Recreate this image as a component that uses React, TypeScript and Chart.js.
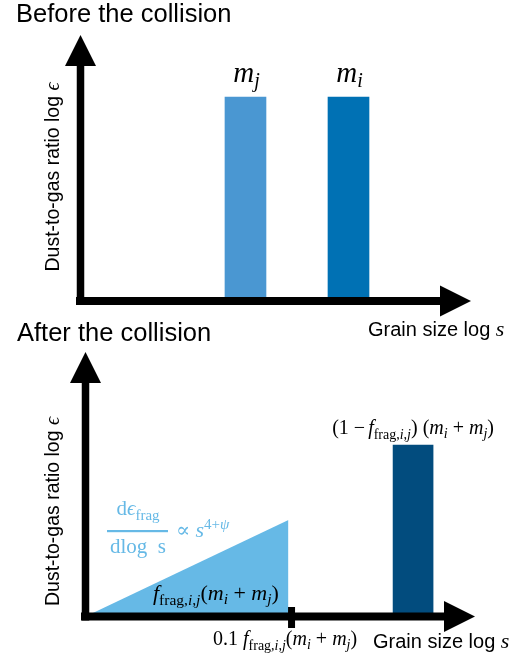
import React, { useEffect, useRef } from 'react';
import { Chart, registerables } from 'chart.js';

Chart.register(...registerables);

const W = 515;
const H = 660;

// ---- Before the collision ----
const beforeSizes = [4.225, 6.863];
const beforeRatios = [7.67, 7.67];
const beforeNames = ['j', 'i'];
const beforeColors = ['#4a97d2', '#0071b4'];

// ---- After the collision ----
const fragSizes = [0, 5.21];
const fragRatios = [0, 3.65];
const fragColor = '#66b9e6';
const remnantSizes = [8.41];
const remnantRatios = [6.48];
const remnantColors = ['#024c7e'];
const cutoffSize = 5.29;

const axisMin = 0;
const axisMax = 10;

const titles = ['Before the collision', 'After the collision'];
const yTitle = 'Dust-to-gas ratio log ';
const xTitle = 'Grain size log ';

type Run = { t: string; f: 'r' | 'i' | 's'; s: number; dy?: number };

const fontOf = (r: Run) => {
  const fam =
    r.f === 's'
      ? '"Liberation Sans", Arial, Helvetica, sans-serif'
      : '"Liberation Serif", "DejaVu Serif", serif';
  return `${r.f === 'i' ? 'italic ' : ''}${r.s}px ${fam}`;
};

function runsWidth(ctx: CanvasRenderingContext2D, runs: Run[]) {
  let w = 0;
  for (const r of runs) {
    ctx.font = fontOf(r);
    w += ctx.measureText(r.t).width;
  }
  return w;
}

function drawRuns(
  ctx: CanvasRenderingContext2D,
  runs: Run[],
  x: number,
  y: number,
  align: 'left' | 'center' | 'right',
  color: string
) {
  const w = runsWidth(ctx, runs);
  let cx = align === 'center' ? x - w / 2 : align === 'right' ? x - w : x;
  ctx.save();
  ctx.fillStyle = color;
  ctx.textBaseline = 'alphabetic';
  ctx.textAlign = 'left';
  for (const r of runs) {
    ctx.font = fontOf(r);
    ctx.fillText(r.t, cx, y + (r.dy || 0));
    cx += ctx.measureText(r.t).width;
  }
  ctx.restore();
}

const fFrag = (s: number, sub: number, dy: number): Run[] => [
  { t: 'f', f: 'i', s },
  { t: 'frag,', f: 'r', s: sub, dy },
  { t: 'i', f: 'i', s: sub, dy },
  { t: ',', f: 'r', s: sub, dy },
  { t: 'j', f: 'i', s: sub, dy },
];
const mSum = (s: number, sub: number, dy: number): Run[] => [
  { t: '(', f: 'r', s },
  { t: 'm', f: 'i', s },
  { t: 'i', f: 'i', s: sub, dy },
  { t: ' + ', f: 'r', s },
  { t: 'm', f: 'i', s },
  { t: 'j', f: 'i', s: sub, dy },
  { t: ')', f: 'r', s },
];

function drawAxes(ctx: CanvasRenderingContext2D, ca: any) {
  const lw = 7.5;
  const head = 31;
  const hw = 15.5;
  ctx.save();
  ctx.fillStyle = '#000';
  ctx.fillRect(ca.left - lw / 2, ca.top + head - 1, lw, ca.bottom + 4 - (ca.top + head - 1));
  ctx.fillRect(ca.left - 4.5, ca.bottom - 4, ca.right - head + 1 - (ca.left - 4.5), 8);
  ctx.beginPath();
  ctx.moveTo(ca.left, ca.top);
  ctx.lineTo(ca.left - hw, ca.top + head);
  ctx.lineTo(ca.left + hw, ca.top + head);
  ctx.closePath();
  ctx.fill();
  ctx.beginPath();
  ctx.moveTo(ca.right, ca.bottom);
  ctx.lineTo(ca.right - head, ca.bottom - hw);
  ctx.lineTo(ca.right - head, ca.bottom + hw);
  ctx.closePath();
  ctx.fill();
  ctx.restore();
}

function drawYTitle(ctx: CanvasRenderingContext2D, x: number, y: number) {
  ctx.save();
  ctx.translate(x, y);
  ctx.rotate(-Math.PI / 2);
  drawRuns(
    ctx,
    [
      { t: yTitle, f: 's', s: 19.5 },
      { t: 'ϵ', f: 'i', s: 20 },
    ],
    0,
    0,
    'center',
    '#000'
  );
  ctx.restore();
}

const topPlugin = {
  id: 'topPanel',
  afterDraw(chart: any) {
    const ctx = chart.ctx as CanvasRenderingContext2D;
    const ca = chart.chartArea;
    drawAxes(ctx, ca);
    drawRuns(ctx, [{ t: titles[0], f: 's', s: 25.5 }], 16, 21.7, 'left', '#000');
    drawYTitle(ctx, 59, 177);
    drawRuns(
      ctx,
      [
        { t: xTitle, f: 's', s: 20 },
        { t: 's', f: 'i', s: 22 },
      ],
      368,
      336,
      'left',
      '#000'
    );
    const meta = chart.getDatasetMeta(0);
    meta.data.forEach((el: any, i: number) => {
      drawRuns(
        ctx,
        [
          { t: 'm', f: 'i', s: 29 },
          { t: beforeNames[i], f: 'i', s: 20, dy: 5 },
        ],
        el.x + 1,
        el.y - 15,
        'center',
        '#000'
      );
    });
  },
};

const bottomPlugin = {
  id: 'bottomPanel',
  afterDraw(chart: any) {
    const ctx = chart.ctx as CanvasRenderingContext2D;
    const ca = chart.chartArea;
    drawAxes(ctx, ca);
    const xs = chart.scales.x;
    ctx.save();
    ctx.fillStyle = '#000';
    const tx = xs.getPixelForValue(cutoffSize);
    ctx.fillRect(tx - 3.5, ca.bottom - 9.5, 7, 21);
    ctx.restore();

    drawRuns(ctx, [{ t: titles[1], f: 's', s: 25.5 }], 17, 341, 'left', '#000');
    drawYTitle(ctx, 59, 511.5);
    drawRuns(
      ctx,
      [
        { t: xTitle, f: 's', s: 20 },
        { t: 's', f: 'i', s: 22 },
      ],
      373,
      648,
      'left',
      '#000'
    );
    drawRuns(
      ctx,
      [{ t: '0.1 ', f: 'r', s: 20 }, ...fFrag(20, 14, 5), ...mSum(20, 14, 4)],
      213,
      645,
      'left',
      '#000'
    );
    drawRuns(ctx, [...fFrag(22, 15.5, 5), ...mSum(22, 15.5, 4)], 153, 600, 'left', '#000');

    const bar = chart.getDatasetMeta(1).data[0];
    drawRuns(
      ctx,
      [
        { t: '(1 ', f: 'r', s: 20 },
        { t: '−', f: 'r', s: 20 },
        { t: ' ', f: 'r', s: 12 },
        ...fFrag(20, 14, 5),
        { t: ') ', f: 'r', s: 20 },
        ...mSum(20, 14, 4),
      ],
      bar.x,
      bar.y - 11,
      'center',
      '#000'
    );

    const c = fragColor;
    drawRuns(
      ctx,
      [
        { t: 'd', f: 'r', s: 21 },
        { t: 'ϵ', f: 'i', s: 21 },
        { t: 'frag', f: 'r', s: 15, dy: 5 },
      ],
      138,
      515,
      'center',
      c
    );
    ctx.save();
    ctx.fillStyle = c;
    ctx.fillRect(107, 530, 61, 2.2);
    ctx.restore();
    drawRuns(ctx, [{ t: 'dlog  s', f: 'r', s: 21 }], 138, 553, 'center', c);
    drawRuns(
      ctx,
      [
        { t: '∝ ', f: 'r', s: 21 },
        { t: 's', f: 'i', s: 22 },
        { t: '4+', f: 'r', s: 15, dy: -8 },
        { t: 'ψ', f: 'i', s: 15, dy: -8 },
      ],
      176,
      537,
      'left',
      c
    );
  },
};

const baseOptions = (padding: any) => ({
  responsive: false,
  animation: false as const,
  devicePixelRatio: 1,
  layout: { padding },
  scales: {
    x: { type: 'linear' as const, min: axisMin, max: axisMax, display: false, offset: false },
    y: { type: 'linear' as const, min: axisMin, max: axisMax, display: false },
  },
  plugins: { legend: { display: false }, tooltip: { enabled: false } },
});

export default function App() {
  const topRef = useRef<HTMLCanvasElement>(null);
  const botRef = useRef<HTMLCanvasElement>(null);

  useEffect(() => {
    const top = new Chart(topRef.current!, {
      type: 'bar',
      data: {
        datasets: [
          {
            data: beforeSizes.map((x, i) => ({ x, y: beforeRatios[i] })),
            backgroundColor: beforeColors,
            borderWidth: 0,
            barThickness: 41,
          } as any,
        ],
      },
      options: baseOptions({ left: 80.5, top: 35, right: 44, bottom: H - 301 }) as any,
      plugins: [topPlugin],
    });
    const bottom = new Chart(botRef.current!, {
      type: 'bar',
      data: {
        datasets: [
          {
            type: 'line',
            data: fragSizes.map((x, i) => ({ x, y: fragRatios[i] })),
            fill: 'origin',
            backgroundColor: fragColor,
            borderColor: 'rgba(0,0,0,0)',
            borderWidth: 0,
            pointRadius: 0,
            tension: 0,
          } as any,
          {
            type: 'bar',
            data: remnantSizes.map((x, i) => ({ x, y: remnantRatios[i] })),
            backgroundColor: remnantColors,
            borderWidth: 0,
            barThickness: 40,
          } as any,
        ],
      },
      options: baseOptions({ left: 85.5, top: 352, right: 40, bottom: H - 616.5 }) as any,
      plugins: [bottomPlugin],
    });
    return () => {
      top.destroy();
      bottom.destroy();
    };
  }, []);

  const cs: React.CSSProperties = { position: 'absolute', left: 0, top: 0, width: W, height: H };
  return (
    <div style={{ position: 'absolute', left: 0, top: 0, width: W, height: H, background: '#fff' }}>
      <canvas ref={topRef} width={W} height={H} style={cs} />
      <canvas ref={botRef} width={W} height={H} style={cs} />
    </div>
  );
}
